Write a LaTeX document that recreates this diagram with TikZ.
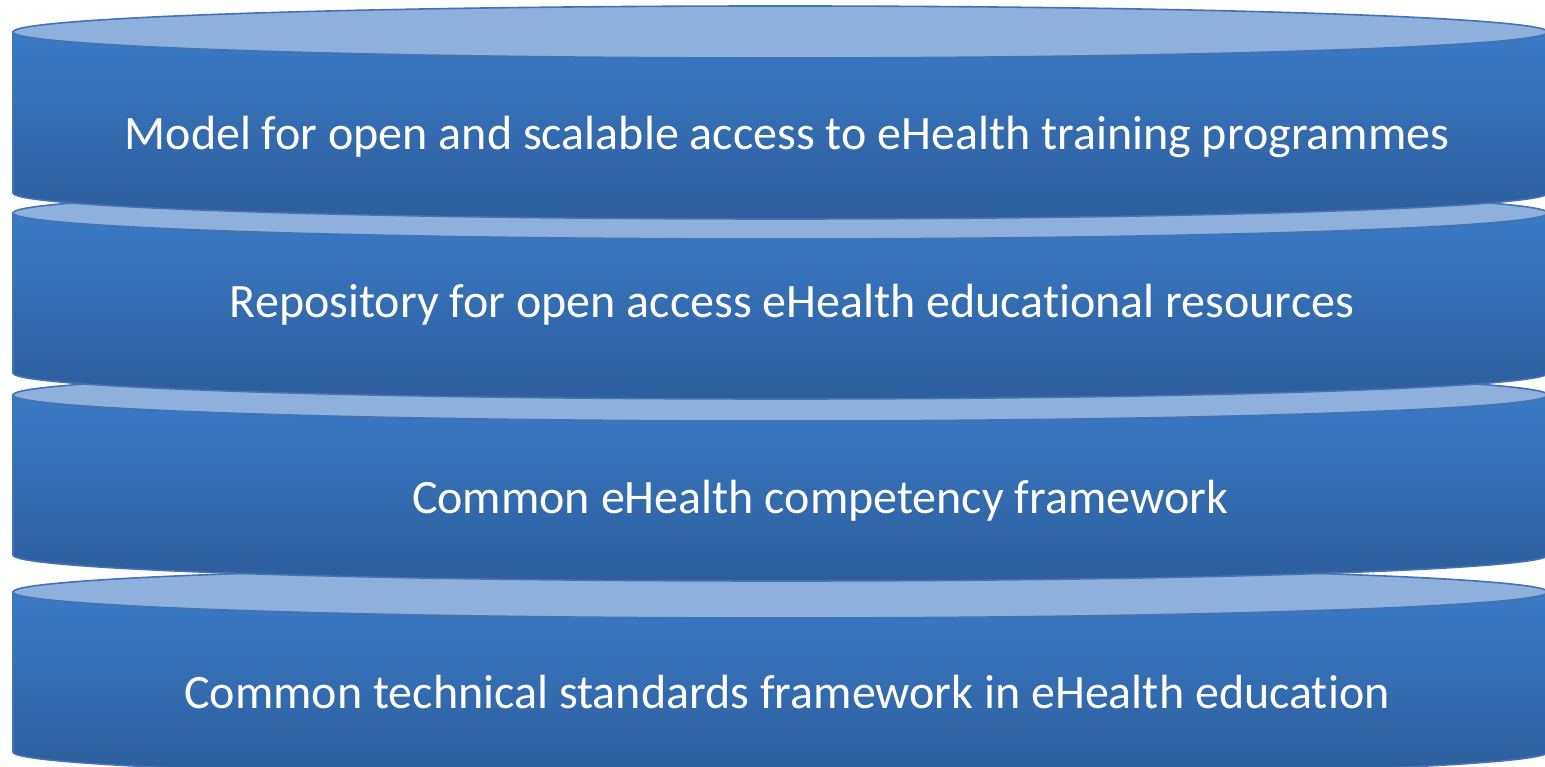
\documentclass[tikz,border=0pt]{standalone}
\usepackage{fontspec}
\setmainfont{Carlito}[RawFeature={-liga;-clig;-calt;-dlig;-rlig;-ccmp}]
\definecolor{lidblue}{RGB}{141,176,220}
\definecolor{bodytop}{RGB}{59,122,197}
\definecolor{bodybot}{RGB}{45,94,156}
\definecolor{rimblue}{RGB}{68,114,180}
\tikzstyle{body}=[draw=rimblue, line width=0.8pt, top color=bodytop, bottom color=bodybot]
\tikzstyle{lid}=[draw=rimblue, line width=0.8pt, fill=lidblue]
\tikzstyle{txt}=[anchor=base, text=white, inner sep=0, font=\fontsize{24}{29}\selectfont]

\begin{document}
\begin{tikzpicture}[x=0.5pt,y=0.5pt]
\useasboundingbox (0,0) rectangle (1545,766);
\clip (0,0) rectangle (1545,766);
% discs from the bottom up, so each one covers the lid below it
\foreach \t/\b in {174/14, 371/211, 553/393, 734/573}
	{\draw[body] (13,\t) -- (13,\b) arc[start angle=180, end angle=360, x radius=767.5, y radius=26] -- (1548,\t) -- cycle;
	\draw[lid] (780.5,\t) ellipse[x radius=767.5, y radius=26];}
\draw (787,616) node[txt](m1) {Model for open and scalable access to eHealth training programmes};
\draw (792,448) node[txt](m2) {Repository for open access eHealth educat\kern0pt ional resources};
\draw (820,253) node[txt](m3) {Common eHealth competency framework};
\draw (787,58) node[txt](m4) {Common technical standards framework in eHealth educat\kern0pt ion};
\end{tikzpicture}
\end{document}
